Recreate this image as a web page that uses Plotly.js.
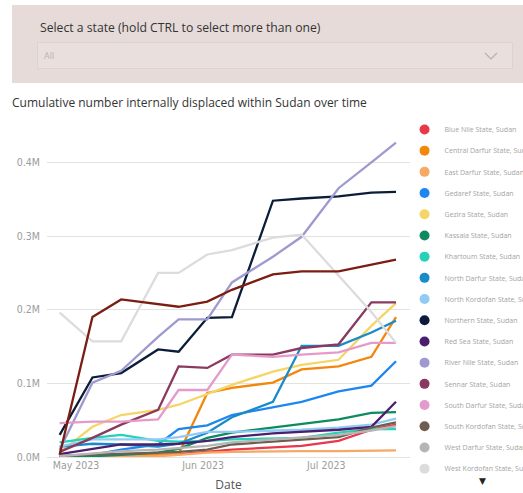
<!DOCTYPE html>
<html>
<head>
<meta charset="utf-8">
<script src="https://cdn.plot.ly/plotly-3.0.1.min.js"></script>
<style>
  html, body { margin:0; padding:0; background:#fff; width:523px; height:493px; overflow:hidden; }
  #chart { position:absolute; left:0; top:0; width:523px; height:493px; z-index:1; }
  #slicer { position:absolute; left:12px; top:5px; width:511px; height:78px; background:#E6DBD9; z-index:2; }
  #slicer .lbl { position:absolute; left:28px; top:14px; font-family:'Open Sans', sans-serif; font-size:12.2px; color:#333; white-space:nowrap; }
  #slicer .box { position:absolute; left:25px; top:37px; width:474px; height:25px; background:#E9DFDD; border:1px solid #DDD2D0; }
  #slicer .all { position:absolute; left:6px; top:6px; font-family:'Open Sans', sans-serif; font-size:9px; color:#BDB3B1; }
  #slicer svg { position:absolute; left:446px; top:9px; }
  #arrow { position:absolute; left:479px; top:476px; font-size:9px; color:#222; z-index:2; font-family:'DejaVu Sans', sans-serif; }
</style>
</head>
<body>
<div id="chart"></div>
<div id="slicer">
  <div class="lbl">Select a state (hold CTRL to select more than one)</div>
  <div class="box">
    <span class="all">All</span>
    <svg width="14" height="8" viewBox="0 0 14 8"><polyline points="1,1 7,7 13,1" fill="none" stroke="#B9AFAD" stroke-width="1.2"/></svg>
  </div>
</div>
<div id="arrow">&#9660;</div>
<script>
// Dates of the updates (x values)
const dates = ['2023-04-27','2023-05-05','2023-05-12','2023-05-21','2023-05-26','2023-06-02',
               '2023-06-08','2023-06-18','2023-06-25','2023-07-04','2023-07-12','2023-07-18'];

// Series names (legend labels)
const states = ['Blue Nile State, Sudan','Central Darfur State, Sudan','East Darfur State, Sudan',
  'Gedaref State, Sudan','Gezira State, Sudan','Kassala State, Sudan','Khartoum State, Sudan',
  'North Darfur State, Sudan','North Kordofan State, Sudan','Northern State, Sudan',
  'Red Sea State, Sudan','River Nile State, Sudan','Sennar State, Sudan','South Darfur State, Sudan',
  'South Kordofan State, Sudan','West Darfur State, Sudan','West Kordofan State, Sudan',
  'White Nile State, Sudan'];

// Cumulative IDPs per state
const blueNile      = [0, 1000, 1000, 3000, 4000, 7000, 10000, 13000, 15000, 22000, 37000, 44000];
const centralDarfur = [1000, 2000, 3000, 3000, 4000, 87000, 94000, 101000, 119000, 123000, 136000, 190000];
const eastDarfur    = [0, 0, 0, 1000, 3000, 6000, 7000, 8000, 8000, 8000, 9000, 9000];
const gedaref       = [0, 3000, 10000, 17000, 38000, 43000, 57000, 68000, 75000, 89000, 97000, 130000];
const gezira        = [6000, 41000, 57000, 64000, 71000, 85000, 98000, 116000, 125000, 132000, 178000, 209000];
const kassala       = [0, 1000, 3000, 6000, 11000, 26000, 33000, 40000, 44000, 51000, 60000, 61000];
const khartoum      = [20000, 26000, 30000, 22000, 21000, 22000, 24000, 25000, 26000, 33000, 38000, 38000];
const northDarfur   = [14000, 18000, 17000, 14000, 18000, 33000, 54000, 75000, 151000, 151000, 169000, 185000];
const northKordofan = [14000, 24000, 24000, 24000, 27000, 34000, 34000, 36000, 37000, 40000, 44000, 52000];
const northern      = [30000, 108000, 114000, 146000, 143000, 189000, 190000, 348000, 351000, 354000, 359000, 360000];
const redSea        = [4000, 11000, 17000, 17000, 18000, 22000, 27000, 32000, 34000, 37000, 41000, 75000];
const riverNile     = [10000, 101000, 117000, 163000, 187000, 187000, 237000, 272000, 299000, 365000, 400000, 427000];
const sennar        = [7000, 26000, 44000, 64000, 123000, 121000, 139000, 139000, 148000, 153000, 210000, 210000];
const southDarfur   = [46000, 48000, 48000, 51000, 91000, 91000, 139000, 136000, 139000, 142000, 155000, 155000];
const southKordofan = [2000, 3000, 4000, 6000, 7000, 10000, 17000, 21000, 24000, 27000, 40000, 47000];
const westDarfur    = [1000, 5000, 8000, 10000, 12000, 15000, 20000, 24000, 27000, 30000, 36000, 42000];
const westKordofan  = [196000, 157000, 157000, 250000, 250000, 275000, 281000, 298000, 302000, 246000, 197000, 155000];
const whiteNile     = [3000, 190000, 214000, 207000, 204000, 211000, 227000, 248000, 252000, 252000, 261000, 268000];

const seriesValues = [blueNile, centralDarfur, eastDarfur, gedaref, gezira, kassala, khartoum,
  northDarfur, northKordofan, northern, redSea, riverNile, sennar, southDarfur, southKordofan,
  westDarfur, westKordofan, whiteNile];

const colors = ['#E8394B','#F2870C','#F6A864','#1E86F0','#F6D466','#0E8A5F','#25D2B5',
  '#1A8BC9','#8FCBF4','#0C1D3A','#4C1E6E','#9E9AD0','#8A3A5F','#E49ACB','#6E5E52',
  '#B5B5B5','#DCDCDC','#7B1D12'];

// Y axis ticks
const yTickVals = [0, 100000, 200000, 300000, 400000];
const yTickText = ['0.0M', '0.1M', '0.2M', '0.3M', '0.4M'];
// X axis ticks
const xTickVals = ['2023-05-01', '2023-06-01', '2023-07-01'];
const xTickText = ['May 2023', 'Jun 2023', 'Jul 2023'];

const traces = [];
states.forEach((name, i) => {
  traces.push({
    type: 'scatter', mode: 'lines', name: name, legendgroup: name, showlegend: false,
    x: dates, y: seriesValues[i],
    line: { color: colors[i], width: 2.3 },
    hovertemplate: '%{x|%d %b %Y}<br>%{y:,}<extra>' + name + '</extra>'
  });
  traces.push({
    type: 'scatter', mode: 'markers', name: name, legendgroup: name, showlegend: true,
    x: [null], y: [null],
    marker: { color: colors[i], size: 10 }, hoverinfo: 'skip'
  });
});

const layout = {
  width: 523, height: 493,
  margin: { l: 47, r: 113, t: 120, b: 36, autoexpand: false },
  paper_bgcolor: '#ffffff', plot_bgcolor: '#ffffff',
  font: { family: 'Open Sans, sans-serif', color: '#666' },
  title: {
    text: 'Cumulative number internally displaced within Sudan over time',
    x: 12 / 523, xref: 'container', xanchor: 'left',
    y: 1 - 103 / 493, yref: 'container', yanchor: 'middle',
    font: { family: 'Open Sans, sans-serif', size: 12, color: '#333' }
  },
  xaxis: {
    type: 'date',
    range: ['2023-04-23 22:00', '2023-07-21 10:00'],
    tickmode: 'array', tickvals: xTickVals, ticktext: xTickText,
    showgrid: false, zeroline: false, showline: false, ticks: '',
    tickfont: { family: 'DejaVu Sans Condensed, Roboto, sans-serif', size: 10.5, color: '#9C9C9C' },
    title: { text: 'Date', font: { family: 'Open Sans, sans-serif', size: 12, color: '#555' }, standoff: 13 }
  },
  yaxis: {
    range: [0, 457600],
    tickmode: 'array', tickvals: yTickVals, ticktext: yTickText,
    showgrid: true, gridcolor: '#E2E2E2', gridwidth: 1,
    zeroline: true, zerolinecolor: '#E2E2E2', zerolinewidth: 1,
    showline: false, ticks: '', ticklabelstandoff: 6,
    tickfont: { family: 'DejaVu Sans Condensed, Roboto, sans-serif', size: 10.5, color: '#9C9C9C' }
  },
  legend: {
    x: 0.985, xanchor: 'left', y: 1.015, yanchor: 'top',
    font: { family: 'Open Sans, sans-serif', size: 7, color: '#A3A3A3' },
    tracegroupgap: 2.2, bgcolor: 'rgba(0,0,0,0)', borderwidth: 0,
    maxheight: 362
  },
  showlegend: true
};

Plotly.newPlot('chart', traces, layout, { displayModeBar: false });
</script>
</body>
</html>
